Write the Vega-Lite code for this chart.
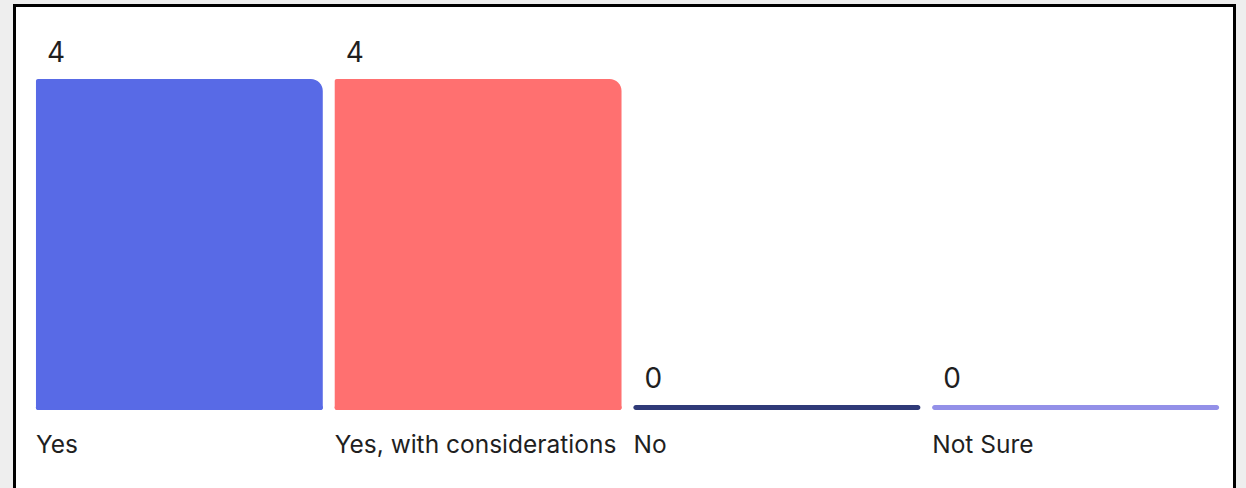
{
  "$schema": "https://vega.github.io/schema/vega-lite/v6.json",
  "width": 1220,
  "height": 484,
  "autosize": {"type": "none"},
  "padding": {"left": 14.5, "top": 5.5, "right": 11.5, "bottom": 0},
  "background": "#eeeeee",
  "config": {
    "view": {"stroke": "#000000", "strokeWidth": 3, "fill": "#ffffff"},
    "text": {"font": "Inter", "fontSize": 24.5, "color": "#1f1f1f", "fill": "#1f1f1f"}
  },
  "data": {
    "values": [
      {"answer": "Yes", "count": 4},
      {"answer": "Yes, with considerations", "count": 4},
      {"answer": "No", "count": 0},
      {"answer": "Not Sure", "count": 0}
    ]
  },
  "encoding": {
    "x": {
      "field": "answer",
      "type": "nominal",
      "sort": null,
      "axis": null,
      "scale": {"range": [15.5, 1210.5], "paddingInner": 0.04, "paddingOuter": 0.02}
    }
  },
  "layer": [
    {
      "mark": {"type": "tick", "thickness": 5, "size": 287, "cornerRadius": 2.5, "yOffset": -2.5, "opacity": 1},
      "encoding": {
        "y": {"datum": 0, "type": "quantitative", "scale": {"domain": [0, 4], "range": [404.5, 73.5]}, "axis": null},
        "color": {
          "field": "answer",
          "type": "nominal",
          "legend": null,
          "scale": {
            "domain": ["Yes", "Yes, with considerations", "No", "Not Sure"],
            "range": ["#586ae6", "#ff7070", "#2f3a78", "#9390e8"]
          }
        }
      }
    },
    {
      "mark": {
        "type": "bar",
        "cornerRadiusTopRight": 12,
        "cornerRadiusTopLeft": 2,
        "cornerRadiusBottomLeft": 2,
        "cornerRadiusBottomRight": 2
      },
      "encoding": {
        "y": {"field": "count", "type": "quantitative", "axis": null},
        "y2": {"datum": 0},
        "color": {"field": "answer", "type": "nominal", "legend": null}
      }
    },
    {
      "transform": [{"filter": "datum.count > 0"}],
      "mark": {"type": "text", "align": "left", "baseline": "alphabetic", "dx": 11, "dy": -17, "fontSize": 28},
      "encoding": {
        "x": {"field": "answer", "type": "nominal", "sort": null, "bandPosition": 0},
        "y": {"field": "count", "type": "quantitative"},
        "text": {"field": "count", "type": "quantitative"}
      }
    },
    {
      "transform": [{"filter": "datum.count == 0"}],
      "mark": {"type": "text", "align": "left", "baseline": "alphabetic", "dx": 11, "dy": -22, "fontSize": 28},
      "encoding": {
        "x": {"field": "answer", "type": "nominal", "sort": null, "bandPosition": 0},
        "y": {"field": "count", "type": "quantitative"},
        "text": {"field": "count", "type": "quantitative"}
      }
    },
    {
      "mark": {"type": "text", "align": "left", "baseline": "alphabetic", "dx": 0, "dy": 43},
      "encoding": {
        "x": {"field": "answer", "type": "nominal", "sort": null, "bandPosition": 0},
        "y": {"datum": 0, "type": "quantitative"},
        "text": {"field": "answer", "type": "nominal"}
      }
    }
  ]
}
